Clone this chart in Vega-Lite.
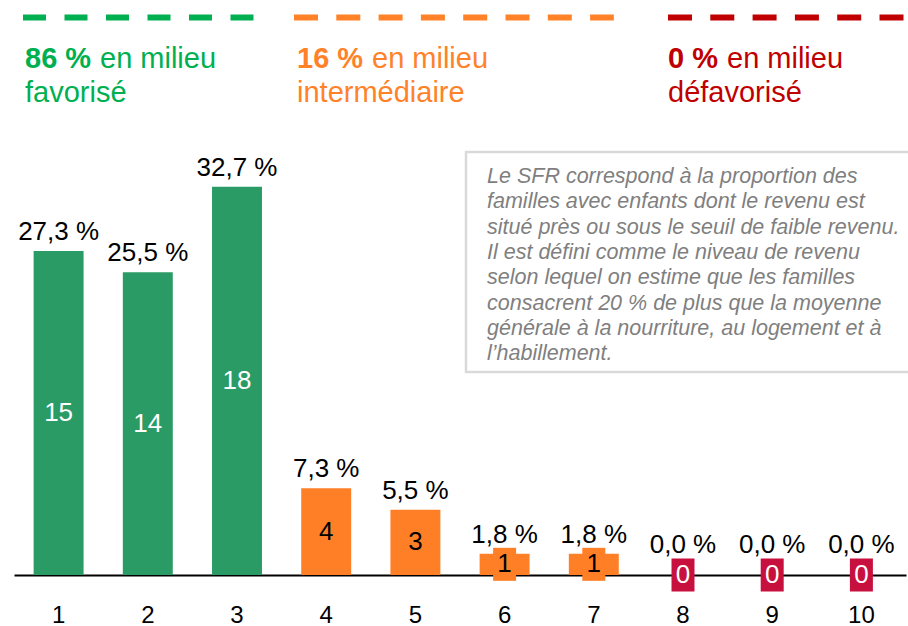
{
  "$schema": "https://vega.github.io/schema/vega-lite/v6.json",
  "width": 892,
  "height": 575,
  "autosize": {"type": "none"},
  "padding": {"left": 14, "right": 2, "top": 0, "bottom": 51},
  "background": "white",
  "config": {
    "view": {"stroke": null},
    "font": "Liberation Sans"
  },
  "data": {
    "values": [
      {"rang": "1", "pct": 0.273, "etiquette": "27,3 %", "n": 15, "milieu": "favorisé"},
      {"rang": "2", "pct": 0.255, "etiquette": "25,5 %", "n": 14, "milieu": "favorisé"},
      {"rang": "3", "pct": 0.327, "etiquette": "32,7 %", "n": 18, "milieu": "favorisé"},
      {"rang": "4", "pct": 0.073, "etiquette": "7,3 %", "n": 4, "milieu": "intermédiaire"},
      {"rang": "5", "pct": 0.055, "etiquette": "5,5 %", "n": 3, "milieu": "intermédiaire"},
      {"rang": "6", "pct": 0.018, "etiquette": "1,8 %", "n": 1, "milieu": "intermédiaire"},
      {"rang": "7", "pct": 0.018, "etiquette": "1,8 %", "n": 1, "milieu": "intermédiaire"},
      {"rang": "8", "pct": 0, "etiquette": "0,0 %", "n": 0, "milieu": "défavorisé"},
      {"rang": "9", "pct": 0, "etiquette": "0,0 %", "n": 0, "milieu": "défavorisé"},
      {"rang": "10", "pct": 0, "etiquette": "0,0 %", "n": 0, "milieu": "défavorisé"}
    ]
  },
  "layer": [
    {
      "mark": {"type": "bar"},
      "encoding": {
        "x": {
          "field": "rang", "type": "nominal",
          "scale": {"domain": ["1","2","3","4","5","6","7","8","9","10"], "paddingInner": 0.44, "paddingOuter": 0.22},
          "axis": {"title": null, "labelAngle": 0, "ticks": false, "domainColor": "#000000", "domainWidth": 2, "labelFontSize": 24, "labelColor": "#000000", "labelPadding": 28, "labelFont": "Liberation Sans", "grid": false}
        },
        "y": {"field": "pct", "type": "quantitative", "scale": {"domain": [0, 0.4844], "nice": false, "zero": true}, "axis": null},
        "color": {
          "field": "milieu", "type": "nominal",
          "scale": {"domain": ["favorisé", "intermédiaire", "défavorisé"], "range": ["#2A9B64", "#FF7F27", "#C8103E"]},
          "legend": null
        }
      }
    },
    {
      "transform": [{"filter": "datum.pct > 0"}],
      "mark": {"type": "text", "dy": -11, "baseline": "alphabetic", "fontSize": 26, "color": "#000000"},
      "encoding": {
        "x": {"field": "rang", "type": "nominal"},
        "y": {"field": "pct", "type": "quantitative"},
        "text": {"field": "etiquette", "type": "nominal"}
      }
    },
    {
      "transform": [{"filter": "datum.pct == 0"}],
      "mark": {"type": "text", "dy": -22, "baseline": "alphabetic", "fontSize": 26, "color": "#000000"},
      "encoding": {
        "x": {"field": "rang", "type": "nominal"},
        "y": {"field": "pct", "type": "quantitative"},
        "text": {"field": "etiquette", "type": "nominal"}
      }
    },
    {
      "transform": [{"filter": "datum.pct < 0.03"}],
      "mark": {"type": "point", "shape": "M-0.697,-1L0.697,-1L0.697,1L-0.697,1Z", "size": 1089, "filled": true, "opacity": 1, "strokeWidth": 0},
      "encoding": {
        "x": {"field": "rang", "type": "nominal"},
        "y": {"field": "pct", "type": "quantitative", "stack": "zero", "bandPosition": 0.5},
        "color": {"field": "milieu", "type": "nominal", "legend": null}
      }
    },
    {
      "mark": {"type": "text", "baseline": "middle", "fontSize": 26},
      "encoding": {
        "x": {"field": "rang", "type": "nominal"},
        "y": {"field": "pct", "type": "quantitative", "stack": "zero", "bandPosition": 0.5},
        "text": {"field": "n", "type": "quantitative"},
        "color": {"condition": {"test": "datum.milieu == 'intermédiaire'", "value": "#000000"}, "value": "#FFFFFF"}
      }
    },
    {
      "data": {"values": [{"g": "favorisé"}]},
      "mark": {"type": "rule", "color": "#00B050", "strokeWidth": 6, "strokeDash": [23, 18.5], "strokeCap": "butt"},
      "encoding": {
        "x": {"datum": "1", "type": "nominal", "bandPosition": -0.2127},
        "x2": {"datum": "3", "bandPosition": 0.83},
        "y": {"datum": 0.4697, "type": "quantitative"}
      }
    },
    {
      "data": {"values": [{"g": "intermédiaire"}]},
      "mark": {"type": "rule", "color": "#FF8229", "strokeWidth": 6, "strokeDash": [24, 18.3], "strokeCap": "butt"},
      "encoding": {
        "x": {"datum": "4", "type": "nominal", "bandPosition": -0.1446},
        "x2": {"datum": "7", "bandPosition": 0.9005},
        "y": {"datum": 0.4697, "type": "quantitative"}
      }
    },
    {
      "data": {"values": [{"g": "défavorisé"}]},
      "mark": {"type": "rule", "color": "#C00000", "strokeWidth": 6, "strokeDash": [24, 18.3], "strokeCap": "butt"},
      "encoding": {
        "x": {"datum": "8", "type": "nominal", "bandPosition": 0.1998},
        "x2": {"datum": "10", "bandPosition": 1.433},
        "y": {"datum": 0.4697, "type": "quantitative"}
      }
    },
    {
      "data": {"values": [{"t": "86 %"}]},
      "mark": {"type": "text", "fontWeight": "bold", "fontSize": 29, "color": "#00B050", "align": "left", "baseline": "alphabetic"},
      "encoding": {
        "x": {"datum": "1", "type": "nominal", "bandPosition": -0.1726},
        "y": {"datum": 0.4271, "type": "quantitative"},
        "text": {"field": "t", "type": "nominal"}
      }
    },
    {
      "data": {"values": [{"t": "en milieu"}]},
      "mark": {"type": "text", "fontSize": 29, "color": "#00B050", "align": "left", "baseline": "alphabetic"},
      "encoding": {
        "x": {"datum": "1", "type": "nominal", "bandPosition": 1.329},
        "y": {"datum": 0.4271, "type": "quantitative"},
        "text": {"field": "t", "type": "nominal"}
      }
    },
    {
      "data": {"values": [{"t": "favorisé"}]},
      "mark": {"type": "text", "fontSize": 29, "color": "#00B050", "align": "left", "baseline": "alphabetic"},
      "encoding": {
        "x": {"datum": "1", "type": "nominal", "bandPosition": -0.1726},
        "y": {"datum": 0.3981, "type": "quantitative"},
        "text": {"field": "t", "type": "nominal"}
      }
    },
    {
      "data": {"values": [{"t": "16 %"}]},
      "mark": {"type": "text", "fontWeight": "bold", "fontSize": 29, "color": "#FF8229", "align": "left", "baseline": "alphabetic"},
      "encoding": {
        "x": {"datum": "4", "type": "nominal", "bandPosition": -0.0845},
        "y": {"datum": 0.4271, "type": "quantitative"},
        "text": {"field": "t", "type": "nominal"}
      }
    },
    {
      "data": {"values": [{"t": "en milieu"}]},
      "mark": {"type": "text", "fontSize": 29, "color": "#FF8229", "align": "left", "baseline": "alphabetic"},
      "encoding": {
        "x": {"datum": "4", "type": "nominal", "bandPosition": 1.417},
        "y": {"datum": 0.4271, "type": "quantitative"},
        "text": {"field": "t", "type": "nominal"}
      }
    },
    {
      "data": {"values": [{"t": "intermédiaire"}]},
      "mark": {"type": "text", "fontSize": 29, "color": "#FF8229", "align": "left", "baseline": "alphabetic"},
      "encoding": {
        "x": {"datum": "4", "type": "nominal", "bandPosition": -0.0845},
        "y": {"datum": 0.3981, "type": "quantitative"},
        "text": {"field": "t", "type": "nominal"}
      }
    },
    {
      "data": {"values": [{"t": "0 %"}]},
      "mark": {"type": "text", "fontWeight": "bold", "fontSize": 29, "color": "#C00000", "align": "left", "baseline": "alphabetic"},
      "encoding": {
        "x": {"datum": "8", "type": "nominal", "bandPosition": 0.1998},
        "y": {"datum": 0.4271, "type": "quantitative"},
        "text": {"field": "t", "type": "nominal"}
      }
    },
    {
      "data": {"values": [{"t": "en milieu"}]},
      "mark": {"type": "text", "fontSize": 29, "color": "#C00000", "align": "left", "baseline": "alphabetic"},
      "encoding": {
        "x": {"datum": "8", "type": "nominal", "bandPosition": 1.381},
        "y": {"datum": 0.4271, "type": "quantitative"},
        "text": {"field": "t", "type": "nominal"}
      }
    },
    {
      "data": {"values": [{"t": "défavorisé"}]},
      "mark": {"type": "text", "fontSize": 29, "color": "#C00000", "align": "left", "baseline": "alphabetic"},
      "encoding": {
        "x": {"datum": "8", "type": "nominal", "bandPosition": 0.1998},
        "y": {"datum": 0.3981, "type": "quantitative"},
        "text": {"field": "t", "type": "nominal"}
      }
    },
    {
      "data": {"values": [{"g": "encadré"}]},
      "mark": {"type": "rect", "fill": "#FFFFFF", "stroke": "#D9D9D9", "strokeWidth": 2.5},
      "encoding": {
        "x": {"datum": "6", "type": "nominal", "bandPosition": -0.2727},
        "x2": {"datum": "10", "bandPosition": 1.513},
        "y": {"datum": 0.3564, "type": "quantitative"},
        "y2": {"datum": 0.171}
      }
    },
    {
      "data": {"values": [{"t": ["Le SFR correspond à la proportion des", "familles avec enfants dont le revenu est", "situé près ou sous le seuil de faible revenu.", "Il est défini comme le niveau de revenu", "selon lequel on estime que les familles", "consacrent 20 % de plus que la moyenne", "générale à la nourriture, au logement et à", "l’habillement."]}]},
      "mark": {"type": "text", "fontStyle": "italic", "fontSize": 21.5, "lineHeight": 25.3, "color": "#7F7F7F", "align": "left", "baseline": "alphabetic"},
      "encoding": {
        "x": {"datum": "6", "type": "nominal", "bandPosition": 0.148},
        "y": {"datum": 0.3302, "type": "quantitative"},
        "text": {"field": "t", "type": "nominal"}
      }
    }
  ]
}
